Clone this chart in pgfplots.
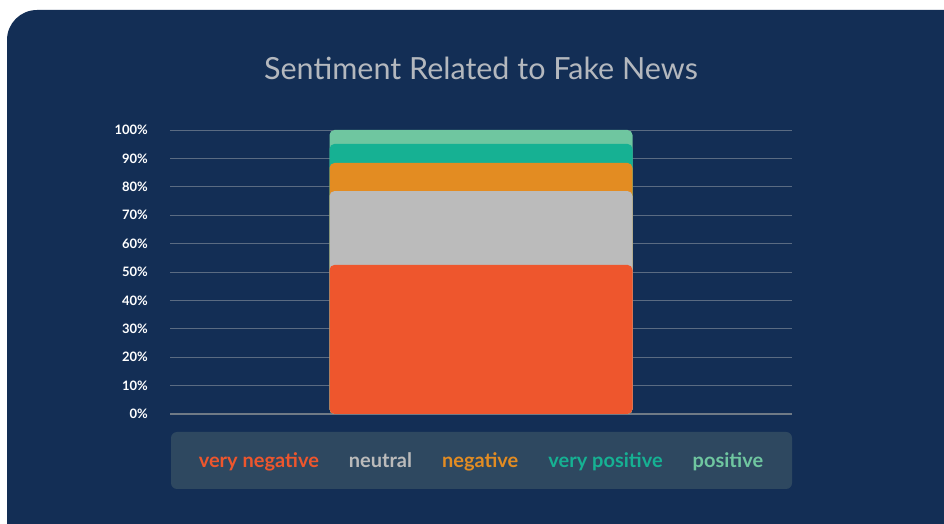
\documentclass[border=0pt]{standalone}
\usepackage{pgfplots}
\pgfplotsset{compat=1.18}
\usepackage{fontspec}
\setmainfont{Lato}
\definecolor{navy}{HTML}{132E55}
\definecolor{legbox}{HTML}{2E4860}
\definecolor{gridc}{HTML}{5A6B82}
\definecolor{zeroc}{HTML}{6F7A86}
\definecolor{titlec}{HTML}{B4B8BE}
\definecolor{vneg}{HTML}{EE562D}
\definecolor{neut}{HTML}{BBBBBB}
\definecolor{neg}{HTML}{E38C22}
\definecolor{vpos}{HTML}{16B193}
\definecolor{pos}{HTML}{6FC6A0}
\begin{document}
\begin{tikzpicture}[x=1pt,y=1pt]
  \useasboundingbox (0,0) rectangle (944,524);
  \clip (0,0) rectangle (944,524);
  \fill[white] (0,0) rectangle (944,524);
  % card
  \fill[navy, rounded corners=30pt] (7,-40) rectangle (990,514);
  % legend panel
  \fill[legbox, rounded corners=6pt] (171,35) rectangle (792,92);
  \node[text=titlec, font=\fontsize{30.5}{34}\selectfont] at (481,456) {Sentiment Related to Fake News};
  \begin{axis}[
      at={(170pt,110pt)}, anchor=south west,
      scale only axis, width=622pt, height=284pt,
      xmin=-1, xmax=1, ymin=0, ymax=100,
      xtick=\empty,
      ytick={0,10,...,100},
      yticklabel={\pgfmathprintnumber{\tick}\%},
      /pgf/number format/assume math mode=true,
      yticklabel style={text=white, font=\fontsize{13}{15}\selectfont\bfseries, anchor=east, inner sep=0pt, xshift=-22pt},
      major tick length=0pt,
      axis line style={draw=none},
      ymajorgrids, grid style={gridc, line width=0.9pt},
      extra y ticks={0}, extra y tick labels={},
      extra y tick style={grid style={zeroc, line width=2pt}},
      ybar, bar width=303pt, bar shift=0pt,
      every axis plot/.append style={draw=none, rounded corners=5pt},
      legend columns=5, reverse legend,
      legend image code/.code={},
      legend style={draw=none, fill=none, at={(0.5,-0.165)}, anchor=center,
        font=\fontsize{20}{23}\selectfont\bfseries,
        nodes={inner xsep=0pt},
        /tikz/every even column/.append style={column sep=30pt},
        /tikz/every odd column/.append style={column sep=0pt}},
    ]
    % tops of the stacked segments (cumulative %)
    \addplot[fill=pos] coordinates {(0,100)};
    \addlegendentry{\textcolor{pos}{positive}}
    \addplot[fill=vpos] coordinates {(0,95.1)};
    \addlegendentry{\textcolor{vpos}{very positive}}
    \addplot[fill=neg] coordinates {(0,88.4)};
    \addlegendentry{\textcolor{neg}{negative}}
    \addplot[fill=neut] coordinates {(0,78.5)};
    \addlegendentry{\textcolor{neut}{neutral}}
    \addplot[fill=vneg] coordinates {(0,52.5)};
    \addlegendentry{\textcolor{vneg}{very negative}}
  \end{axis}
\end{tikzpicture}
\end{document}
